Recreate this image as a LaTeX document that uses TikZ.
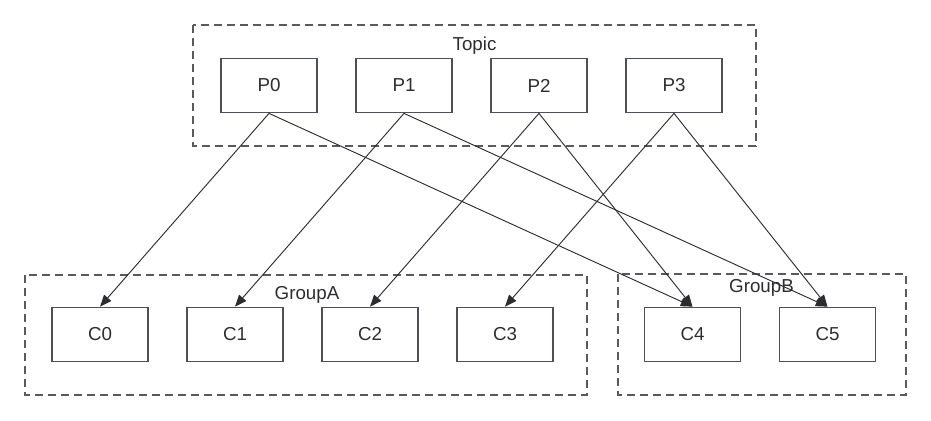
\documentclass[tikz,border=0pt]{standalone}
\usepackage{fontspec}
\setmainfont{Liberation Sans}
\usetikzlibrary{arrows.meta}
\definecolor{boxgray}{RGB}{77,80,86}
\definecolor{dashgray}{RGB}{88,90,94}
\definecolor{inkgray}{RGB}{45,45,48}
\begin{document}
\begin{tikzpicture}[x=0.03cm,y=-0.03cm,line cap=butt,line join=miter,
  part/.style={draw=boxgray,line width=1.2pt,minimum width=2.88cm,minimum height=1.63cm,
    inner sep=0pt,text=inkgray,font=\fontsize{16}{19}\selectfont},
  frame/.style={draw=dashgray,line width=1.2pt,dash pattern=on 6.8pt off 4.3pt},
  caption/.style={text=inkgray,inner sep=0pt,font=\fontsize{16}{19}\selectfont},
  link/.style={draw=inkgray,line width=0.8pt,-{Triangle[length=10pt,width=8pt]}}]
  \useasboundingbox (0,0) rectangle (931,420);

  % Dashed frames
  \coordinate (TA) at (193,25);
  \coordinate (TB) at (756,146);
  \coordinate (GA) at (25,275);
  \coordinate (GB) at (587,395);
  \coordinate (HA) at (618,274);
  \coordinate (HB) at (906,395);
  \draw[frame] (TA) rectangle (TB);
  \draw[frame] (GA) rectangle (GB);
  \draw[frame] (HA) rectangle (HB);

  % Frame titles
  \node[caption] (topic) at (474.5,46) {Topic};
  \node[caption] (groupa) at (307,295) {GroupA};
  \node[caption] (groupb) at (761.5,288) {GroupB};

  % Partitions
  \node[part] (p0) at (269,85.5) {P0};
  \node[part] (p1) at (404,85.5) {P1};
  \node[part] (p2) at (539,85.5) {P2};
  \node[part] (p3) at (674,85.5) {P3};

  % Consumers
  \node[part] (c0) at (100,334.5) {C0};
  \node[part] (c1) at (235,334.5) {C1};
  \node[part] (c2) at (370,334.5) {C2};
  \node[part] (c3) at (505,334.5) {C3};
  \node[part] (c4) at (692.5,334.5) {C4};
  \node[part] (c5) at (827.5,334.5) {C5};

  % Assignments
  \draw[link] (p0.south) -- (c0.north);
  \draw[link] (p0.south) -- (c4.north);
  \draw[link] (p1.south) -- (c1.north);
  \draw[link] (p1.south) -- (c5.north);
  \draw[link] (p2.south) -- (c2.north);
  \draw[link] (p2.south) -- (c4.north);
  \draw[link] (p3.south) -- (c3.north);
  \draw[link] (p3.south) -- (c5.north);
\end{tikzpicture}
\end{document}
